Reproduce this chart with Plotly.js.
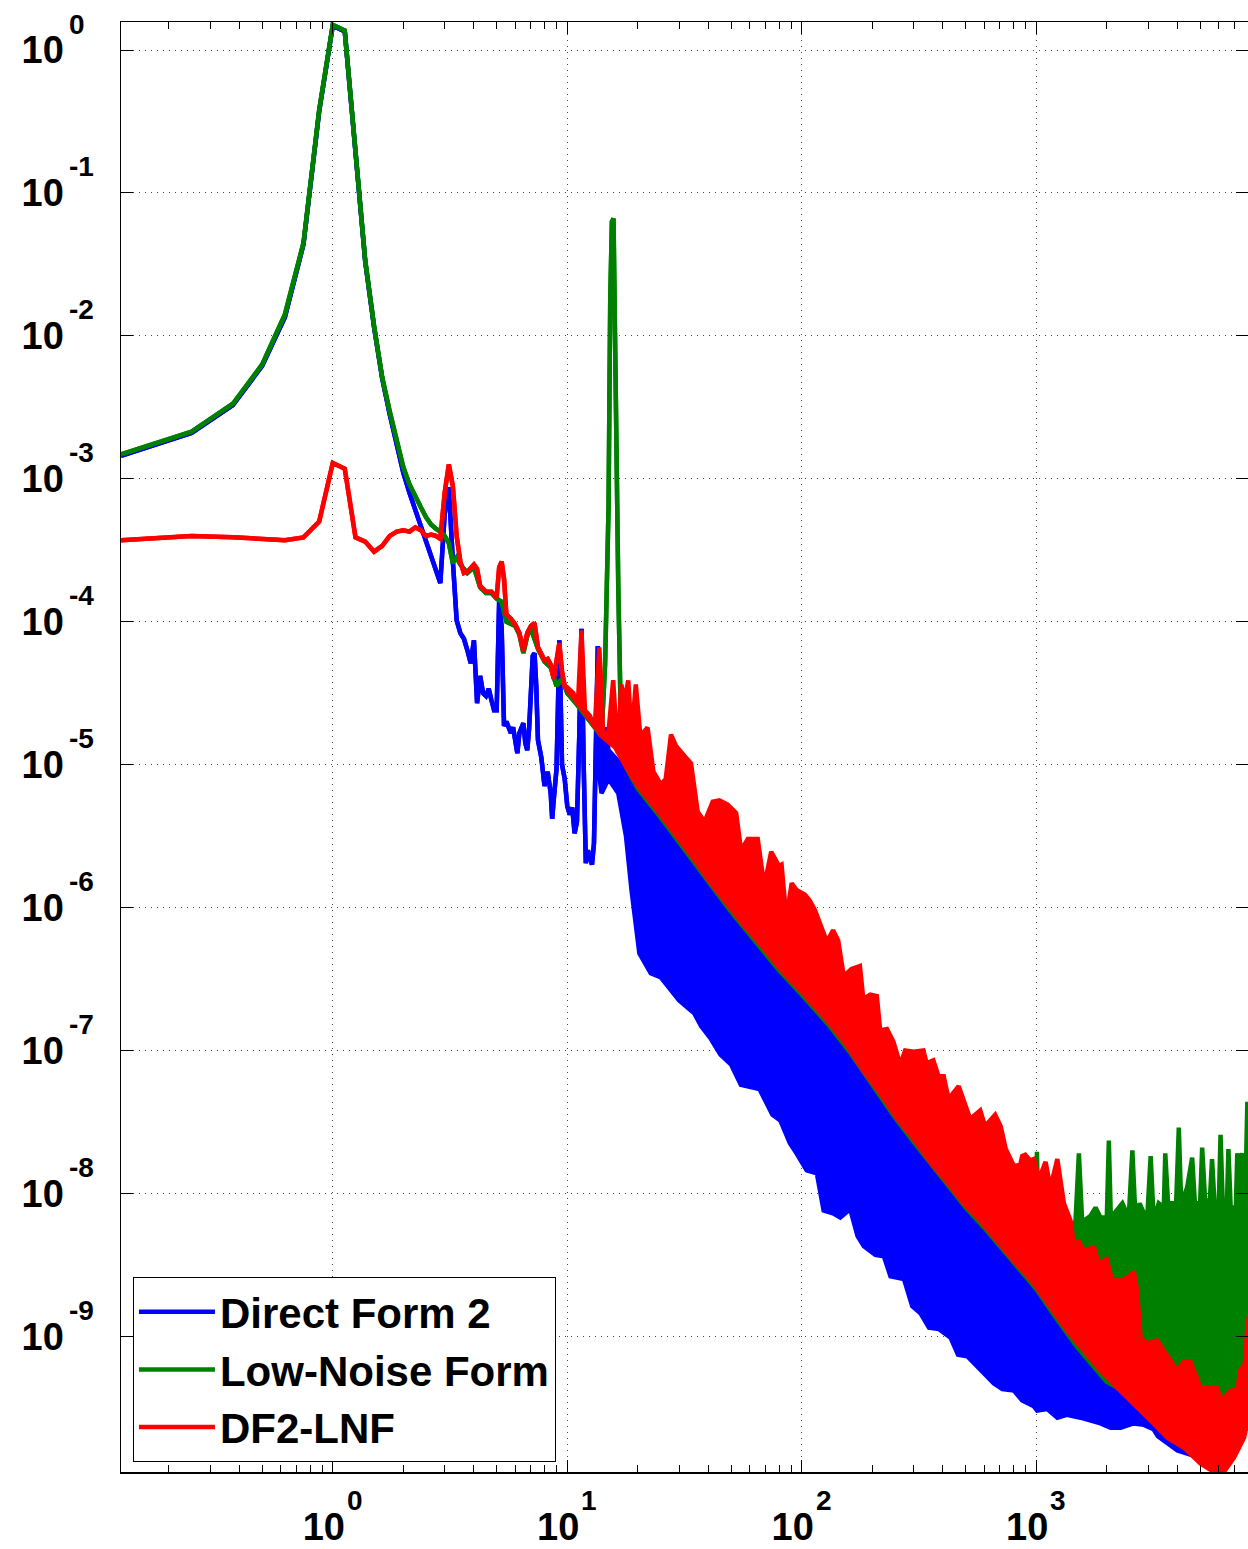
<!DOCTYPE html>
<html>
<head>
<meta charset="utf-8">
<script src="https://cdn.plot.ly/plotly-3.0.1.min.js"></script>
<style>
  html, body { margin: 0; padding: 0; background: #ffffff; }
  #chart { width: 1248px; height: 1549px; }
</style>
</head>
<body>
<div id="chart"></div>
<script>
// ---------- DATA (values are log10 of magnitude) ----------
const blueLineF = [0.125,0.25,0.375,0.5,0.625,0.75,0.875,1.0,1.125,1.25,1.375,1.5,1.625,1.75,1.875,2.0,2.125,2.25,2.375,2.5,2.625,2.75,2.875,3.0,3.125,3.25,3.375,3.5,3.625,3.75,3.875,4.0,4.125,4.25,4.375,4.5,4.625,4.75,4.875,5.0,5.125,5.25,5.375,5.5,5.625,5.75,5.875,6.0,6.125,6.25,6.5,6.625,6.75,6.875,7.0,7.125,7.25,7.375,7.5,7.75,8.0,8.25,8.5,8.625,8.75,9.0,9.125,9.25,9.375,9.5,9.75,10.0,10.25,10.5,10.75,11.0,11.25,11.5,11.75,12.0,12.25,12.5,12.75,13.0,13.25,13.5,13.75];
const blueLineV = [-2.84,-2.68,-2.485,-2.21,-1.87,-1.36,-0.43,0.17,0.13,-0.75,-1.48,-1.94,-2.30,-2.55,-2.76,-2.96,-3.10,-3.22,-3.32,-3.42,-3.52,-3.62,-3.73,-3.25,-3.06,-3.57,-3.99,-4.08,-4.12,-4.20,-4.29,-4.13,-4.57,-4.38,-4.50,-4.52,-4.47,-4.55,-4.62,-4.62,-3.85,-4.04,-4.73,-4.70,-4.75,-4.78,-4.74,-4.85,-4.92,-4.78,-4.71,-4.85,-4.90,-4.75,-4.40,-4.24,-4.22,-4.45,-4.83,-4.95,-5.15,-5.05,-5.20,-5.38,-5.25,-5.03,-4.60,-4.13,-4.55,-5.00,-5.10,-5.29,-5.35,-5.30,-5.48,-5.40,-4.80,-4.05,-5.00,-5.69,-5.60,-5.65,-5.70,-5.55,-4.90,-4.17,-5.10];
const blueHiF = [14,14.5,15,16,17,18.2,20,25,30,40,50,60,80,100,130,160,200,250,300,400,500,600,700,800,1000,1200,1500,2000,2500,3000,4000,5000,6000,7000,8000];
const blueHiV = [-4.88,-4.74,-4.90,-4.95,-5.00,-5.00,-5.10,-5.30,-5.47,-5.75,-5.96,-6.12,-6.37,-6.54,-6.75,-6.94,-7.17,-7.40,-7.56,-7.83,-8.03,-8.17,-8.30,-8.41,-8.60,-8.78,-9.00,-9.22,-9.38,-9.50,-9.60,-9.60,-9.60,-9.60,-9.50];
const blueLoF = [14,15,16.5,17.8,18.8,20.3,22.7,25.1,26.8,30,34.8,37.2,41,45,50,55,66,75,81,89,95,105,116,124,136,146,161,173,184,206,224,239,273,296,321,349,385,431,464,508,551,598,660,717,803,871,977,1009,1115,1230,1350,1545,1700,1880,2075,2290,2600,2880,3160,3300,4000,5000,6000,7000,8000];
const blueLoV = [-5.20,-5.10,-5.20,-5.50,-5.88,-6.32,-6.46,-6.49,-6.55,-6.65,-6.74,-6.83,-6.92,-7.03,-7.10,-7.24,-7.27,-7.45,-7.49,-7.65,-7.72,-7.84,-7.86,-8.12,-8.14,-8.17,-8.11,-8.30,-8.37,-8.43,-8.44,-8.58,-8.60,-8.79,-8.84,-8.94,-8.95,-9.01,-9.13,-9.14,-9.20,-9.26,-9.33,-9.37,-9.38,-9.45,-9.49,-9.52,-9.51,-9.57,-9.55,-9.57,-9.59,-9.61,-9.64,-9.64,-9.61,-9.62,-9.65,-9.70,-9.80,-9.85,-9.85,-9.80,-9.55];

const greenLineF = [0.125,0.25,0.375,0.5,0.625,0.75,0.875,1.0,1.125,1.25,1.375,1.5,1.625,1.75,1.875,2.0,2.125,2.25,2.375,2.5,2.625,2.75,2.875,3.0,3.125,3.25,3.375,3.5,3.75,4.0,4.25,4.5,4.75,5.0,5.25,5.5,5.75,6.0,6.25,6.5,6.75,7.0,7.5,8.0,8.5,9.0,9.5,10,11,12,13,14,14.5,14.75,15.0,15.25,15.5,15.75,16.0,16.25,16.5,16.75,17.0,18,19];
const greenLineV = [-2.83,-2.67,-2.475,-2.20,-1.85,-1.35,-0.42,0.176,0.137,-0.74,-1.47,-1.93,-2.29,-2.53,-2.73,-2.92,-3.04,-3.13,-3.20,-3.27,-3.32,-3.35,-3.37,-3.40,-3.45,-3.59,-3.55,-3.60,-3.66,-3.62,-3.76,-3.80,-3.80,-3.84,-3.86,-4.00,-4.02,-4.03,-4.09,-4.22,-4.10,-4.05,-4.19,-4.28,-4.32,-4.45,-4.40,-4.50,-4.58,-4.66,-4.73,-4.80,-4.30,-3.55,-3.20,-1.75,-1.20,-1.18,-2.20,-3.40,-3.75,-4.30,-4.90,-5.03,-5.10];
const greenHiF = [20,25,30,40,50,60,80,100,130,160,200,250,300,400,500,600,700,800,900,990,1007,1025,1300,1470,1520,1570,1700,1790,1880,2000,2040,2080,2330,2480,2570,2650,2760,2970,3076,3170,3330,3500,3550,3650,3950,4055,4150,4400,4624,4750,5000,5100,5250,5500,5620,5750,6000,6110,6250,6500,6600,6750,7100,7200,7350,7550,7800,7950,8000];
const greenHiV = [-5.05,-5.25,-5.42,-5.70,-5.90,-6.07,-6.32,-6.49,-6.70,-6.89,-7.12,-7.35,-7.51,-7.78,-7.98,-8.12,-8.25,-8.36,-8.46,-8.40,-7.71,-8.40,-8.25,-8.20,-7.72,-8.20,-8.16,-8.10,-8.17,-8.17,-7.63,-8.17,-8.07,-8.17,-7.70,-8.17,-8.07,-8.19,-7.74,-8.19,-8.07,-8.10,-7.72,-8.07,-8.07,-7.54,-8.07,-7.96,-7.75,-8.07,-8.07,-7.68,-8.05,-8.05,-7.76,-8.05,-8.10,-7.59,-8.10,-8.10,-7.69,-8.10,-8.10,-7.72,-7.80,-7.72,-8.00,-7.36,-7.90];
const greenLoF = [20,25,30,40,50,60,80,100,130,160,200,250,300,400,500,600,700,800,1000,1200,1500,2000,2600,3000,4000,5000,6000,7000,7700,8000];
const greenLoV = [-5.17,-5.37,-5.54,-5.82,-6.03,-6.19,-6.44,-6.61,-6.82,-7.01,-7.24,-7.47,-7.64,-7.90,-8.10,-8.24,-8.37,-8.49,-8.67,-8.86,-9.08,-9.32,-9.42,-9.42,-9.42,-9.38,-9.45,-9.43,-9.62,-9.66];

const redLineF = [0.125,0.25,0.375,0.5,0.625,0.75,0.875,1.0,1.125,1.25,1.375,1.5,1.625,1.75,1.875,2.0,2.125,2.25,2.375,2.5,2.625,2.75,2.875,3.0,3.125,3.25,3.375,3.5,3.625,3.75,3.875,4.0,4.125,4.25,4.5,4.75,5.0,5.125,5.25,5.375,5.5,5.75,6.0,6.25,6.5,6.75,7.0,7.25,7.5,7.75,8.0,8.25,8.5,8.75,9.0,9.25,9.5,9.75];
const redLineV = [-3.43,-3.40,-3.41,-3.42,-3.43,-3.41,-3.30,-2.89,-2.93,-3.41,-3.44,-3.51,-3.47,-3.40,-3.37,-3.36,-3.37,-3.34,-3.36,-3.40,-3.39,-3.40,-3.42,-3.10,-2.90,-3.05,-3.40,-3.58,-3.66,-3.65,-3.62,-3.60,-3.63,-3.75,-3.79,-3.79,-3.83,-3.62,-3.58,-3.70,-3.95,-3.98,-4.02,-4.08,-4.20,-4.08,-4.03,-4.01,-4.18,-4.22,-4.27,-4.26,-4.30,-4.40,-4.25,-4.15,-4.35,-4.45];
const redHiF = [10.0,10.6,11.1,11.5,11.9,12.5,13.1,13.7,14.2,14.9,15.7,16.4,17.0,17.6,18.2,18.8,19.6,20.5,22.0,23.3,25.1,26.3,27.7,29.1,31.6,33.7,36.0,38.5,41.7,44.5,48.3,52.5,55.1,58.9,64.9,69.2,74.1,80.0,82.0,86.0,90.6,95.3,103,108,114,122,128,136,143,151,163,177,183,196,209,216,231,246,263,276,300,330,341,364,383,403,423,467,490,523,577,605,668,705,741,804,855,871,898,942,977,1027,1096,1150,1230,1312,1400,1445,1520,1596,1762,1850,1995,2110,2290,2443,2607,2690,2786,2970,3280,3500,3740,3980,4266,4550,5015,5370,5890,6170,6770,7200,7410,7760,8000];
const redHiV = [-4.46,-4.50,-4.58,-4.06,-4.62,-4.66,-4.74,-4.18,-4.76,-4.82,-4.41,-4.92,-4.44,-4.55,-4.41,-4.80,-4.44,-4.80,-4.74,-5.05,-5.14,-5.10,-4.79,-4.87,-4.94,-4.99,-5.33,-5.40,-5.26,-5.25,-5.28,-5.34,-5.60,-5.52,-5.52,-5.85,-5.61,-5.71,-5.70,-6.08,-5.83,-5.88,-5.91,-5.95,-6.02,-6.14,-6.24,-6.16,-6.23,-6.48,-6.43,-6.41,-6.64,-6.61,-6.62,-6.86,-6.85,-6.94,-7.10,-7.00,-7.01,-7.00,-7.09,-7.07,-7.18,-7.18,-7.34,-7.25,-7.34,-7.48,-7.42,-7.53,-7.45,-7.53,-7.69,-7.81,-7.80,-7.74,-7.73,-7.77,-7.76,-7.90,-7.78,-7.96,-7.76,-8.07,-8.19,-8.35,-8.34,-8.40,-8.38,-8.49,-8.46,-8.61,-8.61,-8.59,-8.55,-8.68,-9.01,-9.05,-9.03,-9.10,-9.17,-9.24,-9.18,-9.18,-9.36,-9.36,-9.36,-9.45,-9.38,-9.38,-9.24,-9.19,-8.87];
const redLoF = [10,11,12,13,14,16,18,20,25,30,35,41,48,57,67,80,95,112,130,155,183,216,254,300,353,416,490,577,679,800,977,1150,1355,1596,1880,2213,2607,3076,3620,4266,5015,5730,6310,6970,7690,8000];
const redLoV = [-4.48,-4.56,-4.65,-4.72,-4.80,-4.88,-5.03,-5.15,-5.35,-5.52,-5.67,-5.83,-5.97,-6.13,-6.26,-6.42,-6.55,-6.68,-6.80,-6.96,-7.14,-7.30,-7.47,-7.62,-7.78,-7.92,-8.07,-8.19,-8.33,-8.47,-8.63,-8.80,-8.96,-9.10,-9.24,-9.36,-9.47,-9.59,-9.71,-9.78,-9.89,-9.95,-9.95,-9.85,-9.71,-9.57];

// Tick labels: mantissa "10" and exponents
const xTickVals = [1, 10, 100, 1000];
const xTickExp = ['0', '1', '2', '3'];
const yTickVals = [1e-9, 1e-8, 1e-7, 1e-6, 1e-5, 1e-4, 1e-3, 1e-2, 1e-1, 1];
const yTickExp = ['-9', '-8', '-7', '-6', '-5', '-4', '-3', '-2', '-1', '0'];
const seriesNames = ['Direct Form 2', 'Low-Noise Form', 'DF2-LNF'];
const seriesColors = ['#0000ff', '#008000', '#ff0000'];

// ---------- BUILD ----------
const pow10 = a => a.map(v => Math.pow(10, v));
const LW = 4.5;
function seriesTraces(name, color, lineF, lineV, hiF, hiV, loF, loV) {
  const hi = {
    x: lineF.concat(hiF), y: pow10(lineV.concat(hiV)),
    type: 'scatter', mode: 'lines', name: name, legendgroup: name,
    line: { color: color, width: LW }, showlegend: true, hoverinfo: 'skip'
  };
  const lo = {
    x: lineF.concat(loF), y: pow10(lineV.concat(loV)),
    type: 'scatter', mode: 'lines', name: name, legendgroup: name,
    line: { color: color, width: LW }, fill: 'tonexty', fillcolor: color,
    showlegend: false, hoverinfo: 'skip'
  };
  return [hi, lo];
}
const data = [].concat(
  seriesTraces(seriesNames[0], seriesColors[0], blueLineF, blueLineV, blueHiF, blueHiV, blueLoF, blueLoV),
  seriesTraces(seriesNames[1], seriesColors[1], greenLineF, greenLineV, greenHiF, greenHiV, greenLoF, greenLoV),
  seriesTraces(seriesNames[2], seriesColors[2], redLineF, redLineV, redHiF, redHiV, redLoF, redLoV)
);

const FONT = 'Liberation Sans, Arial, Helvetica, sans-serif';
const tickFont = { family: FONT, size: 38, color: '#000', weight: 'bold' };
const expFont = { family: FONT, size: 28, color: '#000', weight: 'bold' };

// exponent texts placed next to each "10" tick label
const annotations = [];
xTickVals.forEach((v, i) => annotations.push({
  xref: 'x', yref: 'paper', x: Math.log10(v), y: 0,
  xanchor: 'left', yanchor: 'middle', xshift: 13, yshift: -28,
  text: xTickExp[i], showarrow: false, font: expFont, borderpad: 0
}));
yTickVals.forEach((v, i) => annotations.push({
  xref: 'paper', yref: 'y', x: -53 / 1127, y: Math.log10(v),
  xanchor: 'left', yanchor: 'middle', yshift: 26,
  text: yTickExp[i], showarrow: false, font: expFont, borderpad: 0
}));

const layout = {
  width: 1248, height: 1549,
  margin: { l: 121, r: 0, t: 22, b: 77 },
  paper_bgcolor: '#ffffff', plot_bgcolor: '#ffffff',
  showlegend: true,
  annotations: annotations,
  xaxis: {
    type: 'log', range: [Math.log10(0.125), Math.log10(8000)],
    tickmode: 'array', tickvals: xTickVals, ticktext: xTickVals.map(() => '10'),
    ticks: 'inside', ticklen: 12, tickwidth: 1, tickcolor: '#000',
    showline: true, linecolor: '#000', linewidth: 1.5, mirror: 'ticks',
    showgrid: true, gridcolor: '#444', gridwidth: 1, griddash: '1px,5px',
    zeroline: false, tickfont: tickFont, ticklabelstandoff: 21, ticklabelshift: -9,
    minor: { ticks: 'inside', ticklen: 7, tickcolor: '#000', tickwidth: 1, dtick: 'D1', showgrid: false }
  },
  yaxis: {
    type: 'log', range: [-9.95, 0.196],
    tickmode: 'array', tickvals: yTickVals, ticktext: yTickVals.map(() => '10'),
    ticks: 'inside', ticklen: 12, tickwidth: 1, tickcolor: '#000',
    showline: true, linecolor: '#000', linewidth: 1.5, mirror: 'ticks',
    showgrid: true, gridcolor: '#444', gridwidth: 1, griddash: '1px,5px',
    zeroline: false, tickfont: tickFont, ticklabelstandoff: 48
  },
  legend: {
    x: 0.0106, y: 0.0069, xanchor: 'left', yanchor: 'bottom',
    bgcolor: '#ffffff', bordercolor: '#000', borderwidth: 1,
    font: { family: FONT, size: 42, color: '#000', weight: 'bold' },
    itemwidth: 76, tracegroupgap: 0, traceorder: 'normal'
  }
};

Plotly.newPlot('chart', data, layout, { staticPlot: true, displayModeBar: false });
</script>
</body>
</html>
